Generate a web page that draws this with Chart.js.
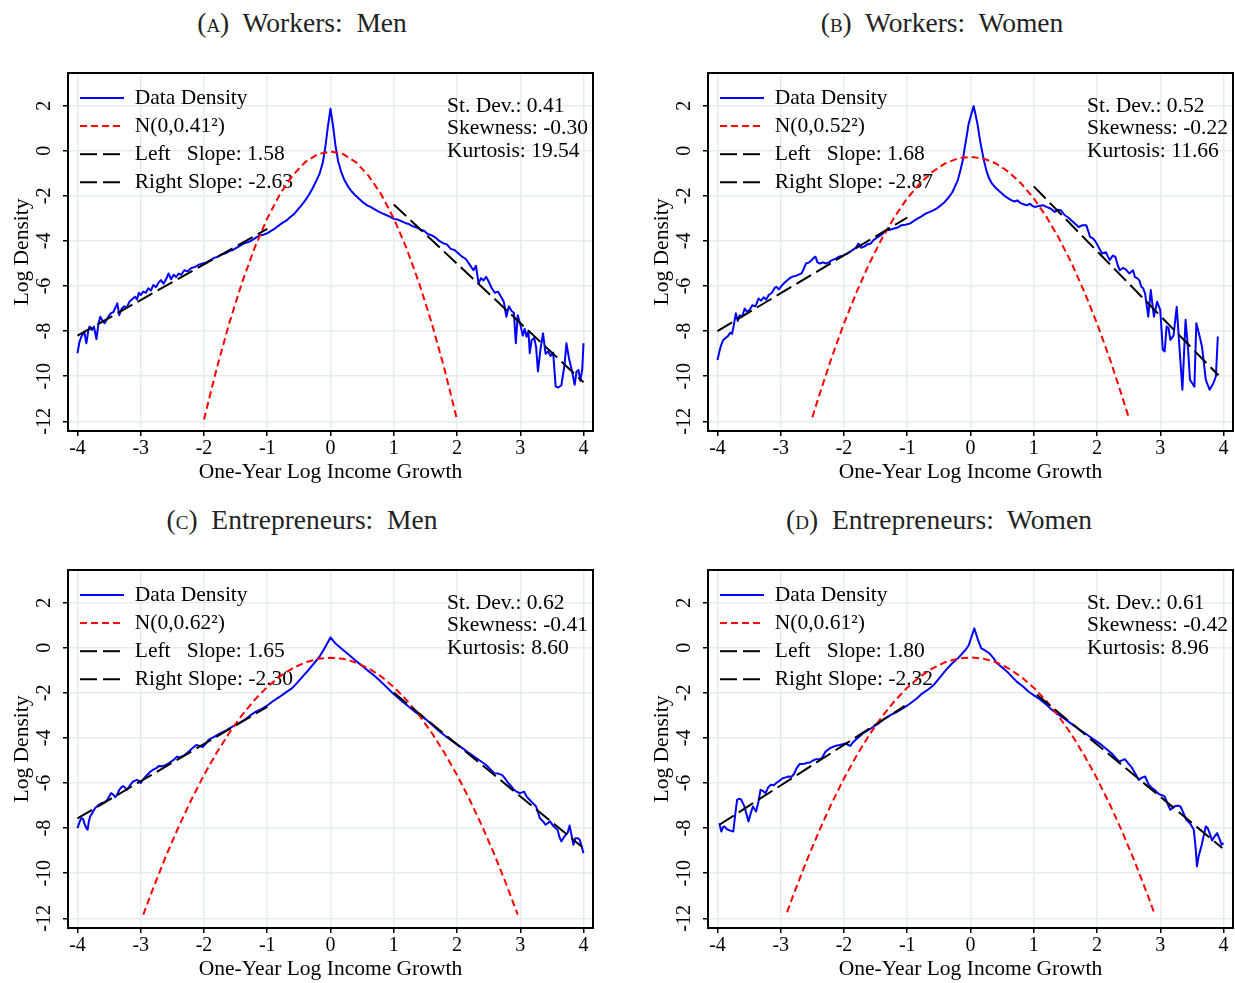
<!DOCTYPE html>
<html>
<head>
<meta charset="utf-8">
<script src="https://cdn.jsdelivr.net/npm/chart.js@4.4.1/dist/chart.umd.min.js"></script>
<style>
  body { margin: 0; background: #fff; overflow: hidden; width: 1235px; height: 983px; position: relative; font-family: "Liberation Serif", serif; }
  .ttl { position: absolute; width: 600px; text-align: center; font-size: 27.5px; line-height: 32px; color: #222; white-space: pre; }
  .sc { font-variant: small-caps; }
  canvas { position: absolute; }
</style>
</head>
<body>
<div class="ttl" style="left:2px;top:7px">(<span class="sc">a</span>)  Workers:  Men</div>
<div class="ttl" style="left:642px;top:7px">(<span class="sc">b</span>)  Workers:  Women</div>
<div class="ttl" style="left:2px;top:504px">(<span class="sc">c</span>)  Entrepreneurs:  Men</div>
<div class="ttl" style="left:639px;top:504px">(<span class="sc">d</span>)  Entrepreneurs:  Women</div>
<canvas id="wm" width="595" height="460" style="left:0;top:40px"></canvas>
<canvas id="ww" width="595" height="460" style="left:640px;top:40px"></canvas>
<canvas id="em" width="595" height="460" style="left:0;top:537px"></canvas>
<canvas id="ew" width="595" height="460" style="left:640px;top:537px"></canvas>
<script>
// axis ticks
const xTicks = [-4, -3, -2, -1, 0, 1, 2, 3, 4];
const yTicks = [-12, -10, -8, -6, -4, -2, 0, 2];

// (A) workers, men
const wmX = [-4.00,-3.97,-3.94,-3.91,-3.89,-3.86,-3.83,-3.81,-3.77,-3.74,-3.70,-3.67,-3.64,-3.60,-3.57,-3.53,-3.50,-3.47,-3.43,-3.40,
  -3.37,-3.34,-3.30,-3.26,-3.22,-3.18,-3.14,-3.09,-3.06,-3.03,-3.00,-2.96,-2.92,-2.88,-2.84,-2.80,-2.76,-2.72,-2.68,-2.64,
  -2.60,-2.56,-2.52,-2.48,-2.44,-2.40,-2.36,-2.31,-2.26,-2.20,-2.14,-2.08,-2.02,-1.96,-1.90,-1.84,-1.78,-1.72,-1.66,-1.60,
  -1.54,-1.48,-1.42,-1.36,-1.30,-1.24,-1.18,-1.12,-1.06,-1.00,-0.94,-0.88,-0.82,-0.76,-0.70,-0.64,-0.58,-0.52,-0.46,-0.40,
  -0.34,-0.28,-0.22,-0.17,-0.12,-0.08,-0.04,0.00,0.04,0.08,0.12,0.17,0.22,0.28,0.34,0.40,0.46,0.52,0.58,0.64,
  0.70,0.76,0.82,0.88,0.94,1.00,1.06,1.12,1.18,1.24,1.30,1.36,1.42,1.48,1.54,1.60,1.66,1.72,1.78,1.84,
  1.90,1.96,2.02,2.08,2.14,2.20,2.26,2.30,2.34,2.38,2.42,2.46,2.50,2.55,2.60,2.65,2.70,2.74,2.78,2.82,
  2.86,2.90,2.93,2.96,3.00,3.04,3.07,3.10,3.13,3.15,3.18,3.22,3.25,3.28,3.32,3.36,3.40,3.44,3.48,3.52,
  3.56,3.60,3.65,3.70,3.73,3.77,3.82,3.86,3.89,3.92,3.95,3.98,4.00];
const wmDensity = [-8.98,-8.5,-8.25,-8.1,-8.07,-8.54,-8.0,-7.8,-7.95,-7.8,-8.36,-7.7,-7.36,-7.55,-7.65,-7.45,-7.3,-7.2,-7.15,-6.95,
  -6.77,-7.29,-7.0,-6.9,-6.95,-6.7,-6.6,-6.47,-6.6,-6.3,-6.4,-6.25,-6.3,-6.1,-6.2,-5.95,-6.05,-5.85,-5.74,-5.9,
  -5.7,-5.44,-5.7,-5.5,-5.6,-5.45,-5.5,-5.3,-5.35,-5.2,-5.15,-5.05,-5.0,-4.95,-4.85,-4.75,-4.7,-4.6,-4.55,-4.45,
  -4.4,-4.3,-4.2,-4.1,-4.05,-3.97,-3.85,-3.75,-3.72,-3.66,-3.55,-3.45,-3.32,-3.2,-3.1,-2.95,-2.82,-2.62,-2.42,-2.2,
  -1.95,-1.65,-1.3,-1.0,-0.5,0.2,1.1,1.86,1.1,0.2,-0.45,-0.95,-1.3,-1.6,-1.82,-2.0,-2.15,-2.3,-2.42,-2.5,
  -2.6,-2.7,-2.78,-2.85,-2.92,-3.02,-3.05,-3.12,-3.2,-3.25,-3.35,-3.4,-3.5,-3.55,-3.7,-3.75,-3.85,-4.0,-4.1,-4.15,
  -4.35,-4.4,-4.55,-4.7,-4.8,-5.05,-5.3,-5.1,-5.88,-5.65,-5.75,-5.59,-5.8,-6.1,-6.3,-6.25,-6.5,-6.7,-7.36,-6.9,
  -7.1,-7.2,-8.54,-7.3,-7.7,-8.2,-7.9,-8.25,-8.0,-8.98,-8.4,-8.3,-8.7,-9.79,-8.8,-8.1,-9.0,-8.9,-9.1,-8.95,
  -10.46,-10.5,-10.4,-9.5,-8.54,-9.2,-9.8,-10.38,-9.8,-9.72,-10.2,-9.7,-8.54];
const wmNormX = [-2.0,-1.8,-1.6,-1.4,-1.2,-1.0,-0.8,-0.6,-0.4,-0.2,0,0.2,0.4,0.6,0.8,1.0,1.2,1.4,1.6,1.8,2.0];
const wmNormY = [-11.92,-9.66,-7.64,-5.86,-4.31,-3.00,-1.93,-1.10,-0.50,-0.15,-0.03,-0.15,-0.50,-1.10,-1.93,-3.00,-4.31,-5.86,-7.64,-9.66,-11.92];
const wmLeftX = [-4, -1];
const wmLeftY = [-8.2, -3.46];
const wmRightX = [1, 4];
const wmRightY = [-2.38, -10.27];
const wmLabels = ["Data Density", "N(0,0.41\u00b2)", "Left   Slope: 1.58", "Right Slope: -2.63"];
const wmStats = ["St. Dev.: 0.41", "Skewness: -0.30", "Kurtosis: 19.54"];

// (B) workers, women
const wwX = [-4.00,-3.97,-3.95,-3.91,-3.87,-3.84,-3.80,-3.77,-3.74,-3.71,-3.68,-3.65,-3.61,-3.57,-3.53,-3.49,-3.45,-3.40,-3.35,-3.31,
  -3.27,-3.23,-3.19,-3.14,-3.10,-3.07,-3.03,-2.99,-2.95,-2.90,-2.86,-2.82,-2.76,-2.71,-2.67,-2.63,-2.60,-2.55,-2.51,-2.48,
  -2.45,-2.42,-2.38,-2.33,-2.29,-2.24,-2.19,-2.14,-2.08,-2.02,-1.95,-1.89,-1.83,-1.80,-1.77,-1.73,-1.68,-1.63,-1.58,-1.53,
  -1.46,-1.40,-1.33,-1.27,-1.21,-1.15,-1.09,-1.03,-0.96,-0.90,-0.84,-0.78,-0.71,-0.65,-0.59,-0.53,-0.47,-0.41,-0.34,-0.29,
  -0.25,-0.20,-0.16,-0.12,-0.09,-0.06,-0.03,0.01,0.05,0.08,0.11,0.14,0.17,0.21,0.25,0.29,0.34,0.40,0.47,0.52,
  0.56,0.61,0.65,0.70,0.74,0.79,0.84,0.89,0.94,0.98,1.02,1.08,1.15,1.21,1.27,1.33,1.38,1.43,1.49,1.54,
  1.58,1.64,1.71,1.77,1.83,1.86,1.89,1.94,1.98,2.03,2.08,2.14,2.20,2.25,2.29,2.33,2.36,2.41,2.45,2.51,
  2.57,2.60,2.64,2.67,2.70,2.73,2.76,2.81,2.85,2.88,2.90,2.95,3.00,3.04,3.07,3.10,3.13,3.16,3.21,3.26,
  3.31,3.35,3.40,3.44,3.47,3.54,3.57,3.62,3.66,3.72,3.78,3.84,3.88,3.91];
const wwDensity = [-9.28,-8.9,-8.69,-8.39,-8.3,-8.24,-8.07,-8.12,-7.7,-7.21,-7.55,-7.3,-7.35,-7.0,-7.15,-7.05,-6.85,-6.9,-6.55,-6.65,
  -6.5,-6.6,-6.4,-6.3,-6.1,-6.03,-6.15,-6.0,-5.88,-5.75,-5.65,-5.59,-5.55,-5.48,-5.44,-5.2,-5.0,-4.95,-4.85,-4.75,
  -4.7,-4.95,-5.0,-4.95,-5.0,-4.95,-4.85,-4.8,-4.7,-4.65,-4.56,-4.45,-4.34,-4.25,-4.12,-4.3,-4.25,-4.15,-4.12,-3.95,
  -3.82,-3.7,-3.52,-3.5,-3.45,-3.4,-3.3,-3.28,-3.23,-3.12,-3.01,-2.92,-2.79,-2.72,-2.64,-2.55,-2.42,-2.28,-2.05,-1.85,
  -1.61,-1.3,-0.87,-0.4,0.16,0.65,1.19,1.6,1.98,1.6,1.19,0.65,0.16,-0.4,-0.87,-1.2,-1.46,-1.65,-1.83,-1.95,
  -2.05,-2.13,-2.2,-2.25,-2.2,-2.32,-2.37,-2.42,-2.35,-2.45,-2.49,-2.45,-2.42,-2.5,-2.57,-2.71,-2.62,-2.64,-2.86,-2.95,
  -3.05,-3.2,-3.38,-3.3,-3.3,-3.55,-3.82,-3.9,-4.04,-4.3,-4.56,-4.5,-4.85,-4.65,-4.7,-5.1,-5.3,-5.2,-5.25,-5.44,
  -5.3,-5.6,-5.66,-5.75,-6.03,-6.1,-6.33,-7.36,-6.18,-6.9,-7.36,-6.7,-7.06,-8.83,-8.9,-7.8,-7.85,-8.39,-8.2,-6.92,
  -8.98,-10.6,-7.5,-8.8,-10.16,-10.46,-7.65,-8.2,-8.69,-10.16,-10.6,-10.31,-10.0,-8.24];
const wwNormX = [-2.5,-2.4,-2.2,-2.0,-1.8,-1.6,-1.4,-1.2,-1.0,-0.8,-0.6,-0.4,-0.2,0,0.2,0.4,0.6,0.8,1.0,1.2,1.4,1.6,1.8,2.0,2.2,2.4,2.5];
const wwNormY = [-11.82,-10.92,-9.21,-7.66,-6.26,-5.00,-3.89,-2.93,-2.11,-1.45,-0.93,-0.56,-0.34,-0.27,-0.34,-0.56,-0.93,-1.45,-2.11,-2.93,-3.89,-5.00,-6.26,-7.66,-9.21,-10.92,-11.82];
const wwLeftX = [-4, -1];
const wwLeftY = [-8.0, -2.96];
const wwRightX = [1, 3.92];
const wwRightY = [-1.58, -9.96];
const wwLabels = ["Data Density", "N(0,0.52\u00b2)", "Left   Slope: 1.68", "Right Slope: -2.87"];
const wwStats = ["St. Dev.: 0.52", "Skewness: -0.22", "Kurtosis: 11.66"];

// (C) entrepreneurs, men
const emX = [-4.00,-3.97,-3.94,-3.91,-3.89,-3.86,-3.84,-3.82,-3.80,-3.76,-3.72,-3.67,-3.62,-3.57,-3.53,-3.50,-3.47,-3.44,-3.40,-3.37,
  -3.34,-3.31,-3.28,-3.25,-3.22,-3.17,-3.12,-3.06,-3.03,-3.00,-2.95,-2.90,-2.85,-2.81,-2.76,-2.71,-2.66,-2.62,-2.57,-2.52,
  -2.47,-2.43,-2.38,-2.33,-2.28,-2.24,-2.18,-2.12,-2.07,-2.02,-1.97,-1.93,-1.84,-1.74,-1.64,-1.55,-1.45,-1.36,-1.27,-1.18,
  -1.08,-0.99,-0.90,-0.80,-0.70,-0.61,-0.51,-0.42,-0.33,-0.24,-0.17,-0.11,-0.05,0.00,0.04,0.08,0.14,0.20,0.30,0.39,
  0.49,0.58,0.68,0.77,0.87,0.96,1.05,1.14,1.24,1.33,1.43,1.52,1.62,1.71,1.81,1.90,2.00,2.09,2.18,2.27,
  2.36,2.46,2.53,2.59,2.65,2.71,2.76,2.81,2.86,2.90,2.95,3.00,3.06,3.10,3.15,3.20,3.25,3.28,3.31,3.36,
  3.40,3.47,3.53,3.59,3.62,3.65,3.69,3.72,3.75,3.78,3.81,3.84,3.87,3.91,3.94,3.97,4.00];
const emDensity = [-8.0,-7.75,-7.56,-7.6,-7.8,-8.0,-8.07,-7.7,-7.48,-7.3,-7.11,-6.98,-6.89,-6.85,-6.75,-6.6,-6.45,-6.5,-6.63,-6.5,
  -6.3,-6.2,-6.13,-6.2,-6.3,-6.1,-5.93,-5.86,-5.9,-6.0,-5.8,-5.64,-5.5,-5.42,-5.35,-5.24,-5.25,-5.22,-5.15,-5.05,
  -4.95,-4.83,-4.85,-4.8,-4.7,-4.6,-4.45,-4.31,-4.35,-4.41,-4.25,-4.09,-3.95,-3.79,-3.65,-3.5,-3.35,-3.2,-3.0,-2.83,
  -2.7,-2.54,-2.35,-2.17,-1.97,-1.8,-1.5,-1.21,-0.93,-0.62,-0.38,-0.1,0.2,0.46,0.32,0.19,0.05,-0.1,-0.33,-0.55,
  -0.78,-0.99,-1.21,-1.43,-1.7,-1.95,-2.17,-2.39,-2.62,-2.83,-3.02,-3.2,-3.45,-3.68,-3.9,-4.09,-4.28,-4.46,-4.65,-4.83,
  -5.0,-5.2,-5.4,-5.56,-5.58,-5.64,-5.8,-6.0,-6.15,-6.3,-6.4,-6.45,-6.38,-6.6,-6.75,-6.9,-7.04,-7.3,-7.56,-7.7,
  -7.85,-7.7,-7.93,-8.07,-8.4,-8.59,-8.4,-8.3,-8.2,-7.88,-8.3,-8.74,-8.45,-8.45,-8.52,-8.8,-9.11];
const emNormX = [-2.96,-2.8,-2.6,-2.4,-2.2,-2.0,-1.8,-1.6,-1.4,-1.2,-1.0,-0.8,-0.6,-0.4,-0.2,0,
  0.2,0.4,0.6,0.8,1.0,1.2,1.4,1.6,1.8,2.0,2.2,2.4,2.6,2.8,2.96];
const emNormY = [-11.84,-10.64,-9.23,-7.93,-6.74,-5.64,-4.66,-3.77,-2.99,-2.31,-1.74,-1.27,-0.91,-0.65,-0.49,-0.44,
  -0.49,-0.65,-0.91,-1.27,-1.74,-2.31,-2.99,-3.77,-4.66,-5.64,-6.74,-7.93,-9.23,-10.64,-11.84];
const emLeftX = [-4, -1];
const emLeftY = [-7.57, -2.62];
const emRightX = [1, 3.98];
const emRightY = [-1.99, -8.84];
const emLabels = ["Data Density", "N(0,0.62\u00b2)", "Left   Slope: 1.65", "Right Slope: -2.30"];
const emStats = ["St. Dev.: 0.62", "Skewness: -0.41", "Kurtosis: 8.60"];

// (D) entrepreneurs, women
const ewX = [-3.97,-3.94,-3.91,-3.89,-3.85,-3.81,-3.75,-3.72,-3.69,-3.66,-3.63,-3.58,-3.54,-3.51,-3.47,-3.44,-3.39,-3.35,-3.32,-3.28,
  -3.24,-3.20,-3.16,-3.11,-3.07,-3.02,-2.97,-2.92,-2.88,-2.83,-2.79,-2.75,-2.70,-2.66,-2.63,-2.58,-2.54,-2.49,-2.44,-2.40,
  -2.35,-2.32,-2.29,-2.22,-2.16,-2.11,-2.07,-2.02,-1.98,-1.94,-1.90,-1.86,-1.82,-1.76,-1.70,-1.63,-1.57,-1.51,-1.45,-1.36,
  -1.26,-1.17,-1.07,-1.01,-0.95,-0.85,-0.76,-0.67,-0.58,-0.48,-0.39,-0.30,-0.20,-0.14,-0.08,-0.03,0.00,0.03,0.06,0.09,
  0.12,0.17,0.23,0.30,0.36,0.42,0.50,0.58,0.65,0.73,0.83,0.92,1.01,1.10,1.19,1.29,1.38,1.48,1.57,1.66,
  1.76,1.85,1.94,2.04,2.13,2.23,2.30,2.35,2.44,2.50,2.54,2.60,2.66,2.71,2.76,2.82,2.86,2.91,2.96,3.00,
  3.04,3.07,3.12,3.16,3.22,3.28,3.32,3.37,3.41,3.47,3.53,3.56,3.58,3.61,3.65,3.69,3.72,3.75,3.78,3.82,
  3.85,3.90,3.94,3.97,4.00];
const ewDensity = [-7.78,-8.15,-7.95,-7.93,-8.05,-8.1,-8.15,-7.4,-6.75,-6.7,-6.72,-7.0,-7.4,-7.7,-7.3,-7.04,-7.26,-6.8,-6.3,-6.35,
  -6.45,-6.2,-6.08,-6.1,-6.0,-5.9,-5.79,-5.75,-5.71,-5.72,-5.6,-5.35,-5.15,-5.16,-5.15,-5.1,-5.09,-5.0,-4.94,-4.95,
  -4.9,-4.75,-4.6,-4.45,-4.38,-4.33,-4.31,-4.28,-4.24,-4.3,-4.35,-4.2,-4.09,-3.95,-3.79,-3.68,-3.57,-3.45,-3.35,-3.15,
  -2.98,-2.85,-2.69,-2.58,-2.46,-2.25,-2.02,-1.85,-1.65,-1.3,-0.99,-0.72,-0.47,-0.28,-0.1,0.1,0.35,0.6,0.86,0.6,
  0.34,-0.03,-0.12,-0.25,-0.45,-0.69,-0.87,-1.06,-1.27,-1.5,-1.72,-1.95,-2.12,-2.29,-2.5,-2.76,-2.95,-3.13,-3.32,-3.5,
  -3.7,-3.87,-4.05,-4.24,-4.45,-4.68,-4.9,-5.05,-4.94,-5.15,-5.27,-5.55,-5.86,-5.76,-5.71,-6.08,-6.2,-6.3,-6.45,-6.52,
  -6.55,-6.6,-6.95,-7.19,-7.04,-7.0,-7.04,-7.35,-7.63,-7.78,-8.07,-8.9,-9.7,-9.2,-8.81,-8.3,-7.93,-8.0,-8.22,-8.55,
  -8.4,-8.22,-8.5,-8.74,-8.66];
const ewNormX = [-2.9,-2.8,-2.6,-2.4,-2.2,-2.0,-1.8,-1.6,-1.4,-1.2,-1.0,-0.8,-0.6,-0.4,-0.2,0,
  0.2,0.4,0.6,0.8,1.0,1.2,1.4,1.6,1.8,2.0,2.2,2.4,2.6,2.8,2.9];
const ewNormY = [-11.73,-10.96,-9.51,-8.17,-6.93,-5.80,-4.78,-3.86,-3.06,-2.36,-1.77,-1.29,-0.91,-0.64,-0.48,-0.43,
  -0.48,-0.64,-0.91,-1.29,-1.77,-2.36,-3.06,-3.86,-4.78,-5.80,-6.93,-8.17,-9.51,-10.96,-11.73];
const ewLeftX = [-3.97, -1.04];
const ewLeftY = [-7.85, -2.58];
const ewRightX = [1.05, 3.98];
const ewRightY = [-2.08, -8.88];
const ewLabels = ["Data Density", "N(0,0.61\u00b2)", "Left   Slope: 1.80", "Right Slope: -2.32"];
const ewStats = ["St. Dev.: 0.61", "Skewness: -0.42", "Kurtosis: 8.96"];

const serif = "'Liberation Serif', 'Times New Roman', serif";
const pts = (xs, ys) => xs.map((x, i) => ({ x: x, y: ys[i] }));
const redDash = [7, 4];
const longDash = [17, 6];

// small picture of a line, used as the legend key (the legend ignores dashes otherwise)
function lineKey(color, dash) {
  const c = document.createElement("canvas");
  c.width = 44;
  c.height = 4;
  const g = c.getContext("2d");
  g.strokeStyle = color;
  g.lineWidth = 2;
  g.setLineDash(dash);
  g.beginPath();
  g.moveTo(0, 2);
  g.lineTo(44, 2);
  g.stroke();
  return c;
}

// stats box + black frame round the plot region
const framePlugin = {
  id: "frame",
  afterLayout(chart) {
    // move the legend a little right and down inside the plot region
    const a = chart.chartArea;
    const lg = chart.legend;
    lg.left = a.left + 5.4;
    lg.top = a.top + 7.6;
    lg.right = a.right;
    lg.bottom = a.bottom;
  },
  afterDraw(chart) {
    const ctx = chart.ctx;
    const a = chart.chartArea;
    const stats = chart.options.plugins.frame.stats;
    ctx.save();
    ctx.fillStyle = "#000";
    ctx.font = "21.5px " + serif;
    ctx.textAlign = "left";
    ctx.textBaseline = "middle";
    stats.forEach((s, i) => ctx.fillText(s, a.left + 379, a.top + 33.5 + i * 22.3));
    ctx.strokeStyle = "#000";
    ctx.lineWidth = 2;
    ctx.strokeRect(a.left, a.top, a.right - a.left, a.bottom - a.top);
    ctx.restore();
  }
};

function makePanel(id, xs, ys, nx, ny, lx, ly, rx, ry, labels, stats) {
  new Chart(document.getElementById(id), {
    type: "line",
    data: {
      datasets: [
        { label: labels[0], data: pts(xs, ys), borderColor: "#0000ff", borderWidth: 2, pointStyle: lineKey("#0000ff", []), order: 3 },
        { label: labels[1], data: pts(nx, ny), borderColor: "#ff0000", borderWidth: 2, borderDash: redDash, pointStyle: lineKey("#ff0000", redDash), order: 2 },
        { label: labels[2], data: pts(lx, ly), borderColor: "#000", borderWidth: 2, borderDash: longDash, pointStyle: lineKey("#000", longDash), order: 1 },
        { label: labels[3], data: pts(rx, ry), borderColor: "#000", borderWidth: 2, borderDash: longDash, pointStyle: lineKey("#000", longDash), order: 1 }
      ]
    },
    options: {
      responsive: false,
      animation: false,
      layout: { padding: { left: 0, right: 2, top: 33, bottom: 0 } },
      elements: { point: { radius: 0, hoverRadius: 0 }, line: { tension: 0, borderJoinStyle: "round" } },
      plugins: {
        tooltip: { enabled: false },
        frame: { stats: stats },
        legend: {
          position: "chartArea",
          align: "start",
          labels: {
            usePointStyle: true,
            pointStyleWidth: 44,
            boxWidth: 44,
            padding: 6.6,
            color: "#000",
            font: { family: serif, size: 21.5 },
            sort: (a, b) => a.datasetIndex - b.datasetIndex
          }
        }
      },
      scales: {
        x: {
          type: "linear",
          min: -4.15,
          max: 4.15,
          afterBuildTicks: s => { s.ticks = xTicks.map(v => ({ value: v })); },
          afterFit: s => { s.height = 69; },
          border: { display: false },
          grid: { color: "#e3ecef", lineWidth: 1.5, tickColor: "#000", tickLength: 5, tickWidth: 1.5 },
          ticks: { color: "#000", font: { family: serif, size: 20 }, padding: 1, maxRotation: 0, autoSkip: false, callback: v => String(v) },
          title: { display: true, text: "One-Year Log Income Growth", color: "#000", font: { family: serif, size: 21.5 }, padding: { top: 0, bottom: 15 } }
        },
        y: {
          min: -12.43,
          max: 3.45,
          afterBuildTicks: s => { s.ticks = yTicks.map(v => ({ value: v })); },
          afterFit: s => { s.width = 68; },
          border: { display: false },
          grid: { color: "#e3ecef", lineWidth: 1.5, tickColor: "#000", tickLength: 5, tickWidth: 1.5 },
          ticks: { color: "#000", font: { family: serif, size: 20 }, padding: 5, minRotation: 90, maxRotation: 90, crossAlign: "center", callback: v => String(v) },
          title: { display: true, text: "Log Density", color: "#000", font: { family: serif, size: 21.5 }, padding: { top: 9, bottom: 0 } }
        }
      }
    },
    plugins: [framePlugin]
  });
}

makePanel("wm", wmX, wmDensity, wmNormX, wmNormY, wmLeftX, wmLeftY, wmRightX, wmRightY, wmLabels, wmStats);
makePanel("ww", wwX, wwDensity, wwNormX, wwNormY, wwLeftX, wwLeftY, wwRightX, wwRightY, wwLabels, wwStats);
makePanel("em", emX, emDensity, emNormX, emNormY, emLeftX, emLeftY, emRightX, emRightY, emLabels, emStats);
makePanel("ew", ewX, ewDensity, ewNormX, ewNormY, ewLeftX, ewLeftY, ewRightX, ewRightY, ewLabels, ewStats);
</script>
</body>
</html>
